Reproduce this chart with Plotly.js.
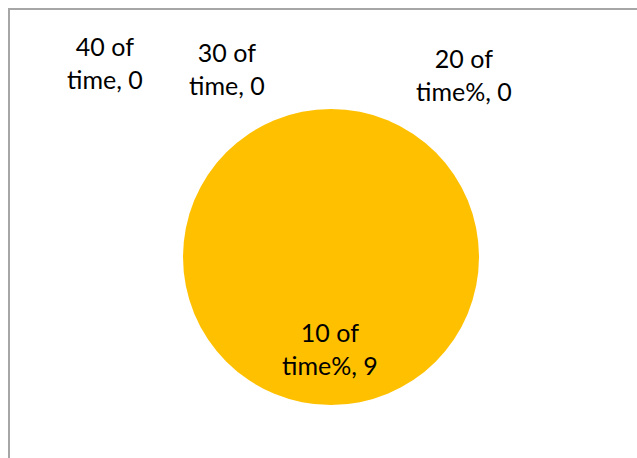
<!DOCTYPE html>
<html>
<head>
<meta charset="utf-8">
<script src="https://cdn.plot.ly/plotly-3.0.1.min.js"></script>
<style>
  html, body { margin: 0; padding: 0; background: #ffffff; }
  #chart { width: 637px; height: 458px; }
</style>
</head>
<body>
<div id="chart"></div>
<script>
// Share of time spent per level
const categories = ["10 of time%", "20 of time%", "30 of time", "40 of time"];
const counts = [9, 0, 0, 0];
const sliceColors = ["#FFC000", "#4472C4", "#ED7D31", "#A5A5A5"];

// Where each data label sits (paper fraction, measured from the left / top)
const labelX = [330 / 637, 464 / 637, 227 / 637, 105 / 637];
const labelY = [348 / 458, 74 / 458, 68 / 458, 63 / 458];

const W = 637, H = 458;
const cx = 331, cy = 257, r = 148;

const trace = {
  type: "pie",
  labels: categories,
  values: counts,
  sort: false,
  direction: "clockwise",
  rotation: 0,
  marker: { colors: sliceColors, line: { width: 0 } },
  textinfo: "none",
  hoverinfo: "label+value",
  showlegend: false,
  domain: {
    x: [(cx - r) / W, (cx + r) / W],
    y: [1 - (cy + r) / H, 1 - (cy - r) / H]
  }
};

// Two-line labels: category split after "of", then the value
const annotations = categories.map((c, i) => ({
  xref: "paper", yref: "paper",
  x: labelX[i], y: 1 - labelY[i],
  xanchor: "center", yanchor: "middle",
  text: c.replace(" of ", " of<br>") + ", " + counts[i],
  showarrow: false,
  align: "center",
  font: { family: "Lato, 'Open Sans', sans-serif", size: 25, color: "#000000" }
}));

const layout = {
  width: W, height: H,
  margin: { l: 0, r: 0, t: 0, b: 0 },
  paper_bgcolor: "#ffffff",
  annotations: annotations,
  shapes: [{
    type: "rect", xref: "paper", yref: "paper",
    x0: 9 / W, x1: 1.05, y0: -0.05, y1: 1 - 9 / H,
    line: { color: "#A6A6A6", width: 2 },
    fillcolor: "rgba(0,0,0,0)",
    layer: "below"
  }]
};

Plotly.newPlot("chart", [trace], layout, { displayModeBar: false, staticPlot: true });
</script>
</body>
</html>
